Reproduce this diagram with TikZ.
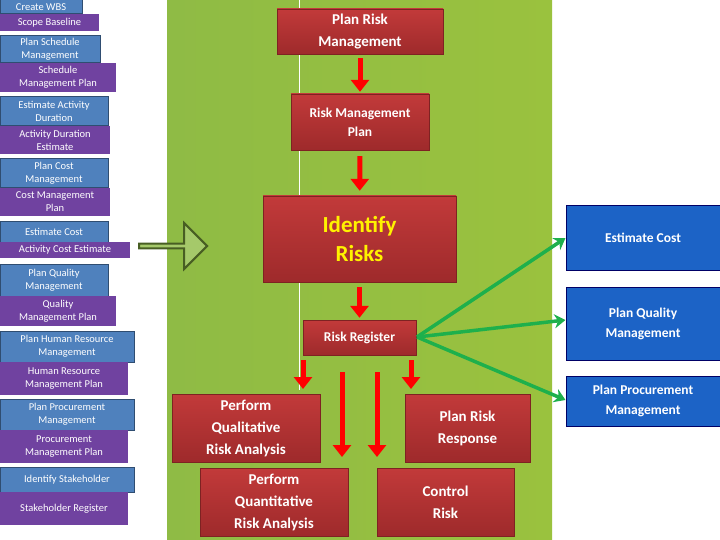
\documentclass[tikz,border=0pt]{standalone}
\usepackage{fontspec}
\setmainfont{Carlito}
\usetikzlibrary{arrows.meta,shapes.arrows,calc}
\definecolor{lblue}{HTML}{4F81BD}
\definecolor{lpurp}{HTML}{7042A0}
\definecolor{rred}{HTML}{C23A3A}
\definecolor{rdark}{HTML}{9E2A2B}
\definecolor{gpanel}{HTML}{8FBB45}
\definecolor{gline}{HTML}{1EB04C}
\definecolor{rblue}{HTML}{1C63C6}
\tikzset{
  lb/.style={draw=lblue!60!black,line width=1pt,fill=lblue,text=white,font=\fontsize{10.5}{13}\selectfont,align=center,inner sep=0pt},
  lp/.style={fill=lpurp,text=white,font=\fontsize{10.5}{13}\selectfont,align=center,inner sep=0pt},
  rb/.style={top color=rred,bottom color=rdark,draw=rdark!80!black,text=white,font=\fontsize{15}{22}\selectfont\bfseries,align=center,inner sep=0pt},
  bb/.style={fill=rblue,draw=blue!40!black,line width=1pt,text=white,font=\fontsize{13.5}{20}\selectfont\bfseries,align=center,inner sep=0pt},
  rarr/.style={red,line width=5pt,-{Triangle[width=18pt,length=12pt]}},
  garr/.style={gline,line width=3.5pt,-{Stealth[width=14pt,length=11pt]}},
}
\newcommand{\bx}[7]{\node[#6,minimum width={(#4-#2)*1pt},minimum height={(#5-#3)*1pt}] (#1) at ({(#2+#4)/2},{(#3+#5)/2}) {#7};}
\begin{document}
\begin{tikzpicture}[x=1pt,y=-1pt]
\useasboundingbox (0,0) rectangle (720,540);
\fill[white] (0,0) rectangle (720,540);
\fill[left color=gpanel,right color=gpanel!90!yellow] (167,0) rectangle (552,540);
\draw[white,line width=0.8pt] (299,0) -- (299,390);
% left column
\bx{a1}{0}{0}{82}{14}{lb}{Create WBS}
\bx{a2}{0}{14}{99}{31}{lp}{Scope Baseline}
\bx{b1}{0}{36}{100}{63}{lb}{Plan Schedule\\Management}
\bx{b2}{0}{63}{116}{92}{lp}{Schedule\\Management Plan}
\bx{c1}{0}{97}{108}{126}{lb}{Estimate Activity\\Duration}
\bx{c2}{0}{126}{110}{154}{lp}{Activity Duration\\Estimate}
\bx{d1}{0}{159}{108}{188}{lb}{Plan Cost\\Management}
\bx{d2}{0}{188}{110}{216}{lp}{Cost Management\\Plan}
\bx{e1}{0}{222}{108}{242}{lb}{Estimate Cost}
\bx{e2}{0}{242}{130}{258}{lp}{Activity Cost Estimate}
\bx{f1}{0}{264}{108}{296}{lb}{Plan Quality\\Management}
\bx{f2}{0}{296}{116}{326}{lp}{Quality\\Management Plan}
\bx{g1}{0}{331}{134}{362}{lb}{Plan Human Resource\\Management}
\bx{g2}{0}{362}{128}{395}{lp}{Human Resource\\Management Plan}
\bx{h1}{0}{399}{134}{430}{lb}{Plan Procurement\\Management}
\bx{h2}{0}{430}{128}{463}{lp}{Procurement\\Management Plan}
\bx{i1}{0}{467}{134}{492}{lb}{Identify Stakeholder}
\bx{i2}{0}{492}{128}{525}{lp}{Stakeholder Register}
% hollow arrow
\node[single arrow,draw=gpanel!50!black,line width=2pt,fill=gpanel!80!white,minimum width=46pt,minimum height=68pt,single arrow head extend=9pt,inner sep=0pt,single arrow tip angle=90] (ha) at (172,246) {};
% red boxes
\bx{prm}{277}{9}{443}{54}{rb}{Plan Risk\\Management}
\bx{rmp}{291}{94}{429}{150}{rb,font=\fontsize{13.5}{19}\selectfont\bfseries}{Risk Management\\Plan}
\bx{ir}{263}{196}{456}{282}{rb,text=yellow,font=\fontsize{23}{29}\selectfont\bfseries}{Identify\\Risks}
\bx{rr}{303}{320}{416}{355}{rb,font=\fontsize{13.5}{16}\selectfont\bfseries}{Risk Register}
\bx{pql}{172}{394}{320}{462}{rb}{Perform\\Qualitative\\Risk Analysis}
\bx{prr}{405}{394}{530}{462}{rb}{Plan Risk\\Response}
\bx{pqn}{200}{468}{348}{536}{rb}{Perform\\Quantitative\\Risk Analysis}
\bx{cr}{377}{468}{514}{536}{rb}{Control\\Risk}
% right boxes
\bx{ec}{566}{206}{720}{270}{bb}{Estimate Cost}
\bx{pq}{566}{287}{720}{360}{bb}{Plan Quality\\Management}
\bx{pp}{566}{376}{720}{426}{bb}{Plan Procurement\\Management}
% red arrows
\draw[rarr,shorten <=4pt,shorten >=2pt] (prm) -- (rmp);
\draw[rarr,shorten <=6pt,shorten >=5pt] (rmp) -- (ir);
\draw[rarr,shorten <=5pt,shorten >=2pt] (ir) -- (rr);
\coordinate (s1) at (303,360); \coordinate (t1) at (303,389);
\coordinate (s2) at (411,360); \coordinate (t2) at (411,389);
\coordinate (s3) at (342,372); \coordinate (t3) at (342,457);
\coordinate (s4) at (377,372); \coordinate (t4) at (377,457);
\draw[rarr] (s1) -- (t1);
\draw[rarr] (s2) -- (t2);
\draw[rarr] (s3) -- (t3);
\draw[rarr] (s4) -- (t4);
% green arrows
\coordinate (g0) at (417,337);
\draw[garr] (g0) -- (ec.west|-0,238);
\draw[garr] (g0) -- (pq.west|-0,320);
\draw[garr] (g0) -- (pp.west|-0,400);
\end{tikzpicture}
\end{document}
